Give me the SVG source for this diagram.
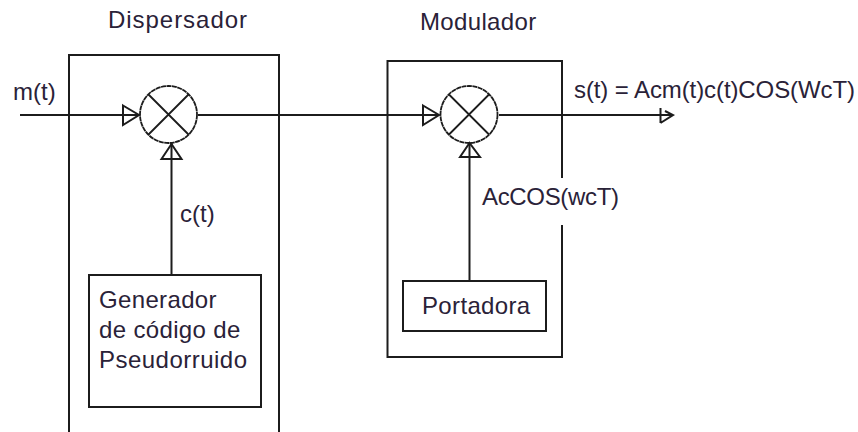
<svg xmlns="http://www.w3.org/2000/svg" width="858" height="432" viewBox="0 0 858 432">
<style>
.l{fill:none;stroke:#1c1c1c;stroke-width:2}
.b{fill:#fff;stroke:#1c1c1c;stroke-width:2}
.c{fill:none;stroke:#1c1c1c;stroke-width:1.8}
text{font-family:"Liberation Sans",Arial,sans-serif;font-size:24px;fill:#2a2238}
.s{letter-spacing:.35px}
</style>
<defs>
<g id="mix"><circle class="c" r="28.500" stroke-dasharray="5 0.5"/><path class="c" d="M-20-20L20 20M20-20L-20 20"/></g>
</defs>
<rect width="858" height="432" fill="#fff"/>
<g id="dispersador"><path class="l" d="M69 432V55H279V432"/><text x="108" y="28" textLength="139">Dispersador</text></g>
<g id="modulador"><path class="l" d="M562 178V61H387.500V357H562V225"/><text x="420" y="30" class="s">Modulador</text></g>
<g id="connectors">
<path class="l" d="M20 115H139M198 115H439M499 115H672M171.500 143V275M469.500 143V281"/>
<path class="l" d="M123 105.500L139 115L123 125ZM161.500 159L171.500 144L181.500 159ZM423 105.500L439 115L423 125ZM460 157L469.500 143L480 157ZM660.500 108V123M660.500 123L673 115L665 111"/>
</g>
<g id="mixer1" transform="translate(168.500 114.500)"><use href="#mix"/></g>
<g id="mixer2" transform="translate(469 114.500)"><use href="#mix"/></g>
<g id="generador"><rect class="b" x="89" y="275" width="172" height="132"/><text x="99" y="308" class="s">Generador</text><text x="99" y="338" class="s">de código de</text><text x="99" y="368" textLength="148">Pseudorruido</text></g>
<g id="portadora"><rect class="b" x="403" y="281" width="143" height="50"/><text x="422" y="314" class="s">Portadora</text></g>
<g id="labels">
<text x="13" y="100">m(t)</text><text x="180" y="222">c(t)</text><text x="482" y="205" textLength="137">AcCOS(wcT)</text><text x="574" y="98" textLength="281">s(t) = Acm(t)c(t)COS(WcT)</text>
</g>
</svg>
